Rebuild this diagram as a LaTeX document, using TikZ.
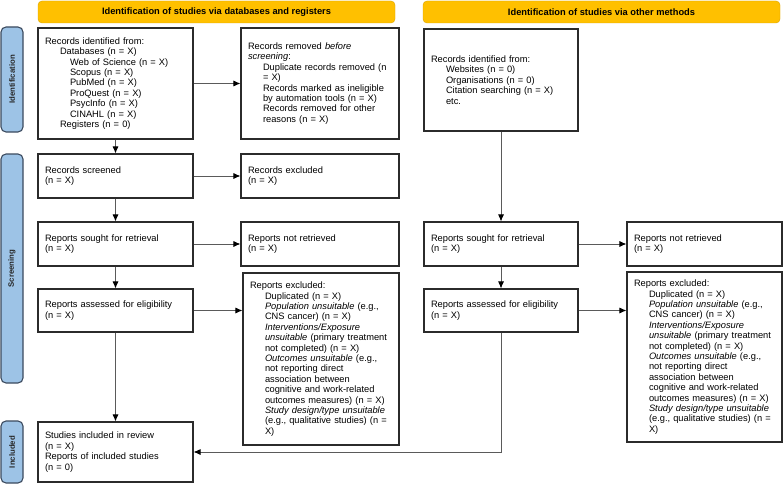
\documentclass[tikz,border=0pt]{standalone}
\usepackage{fontspec}
\setmainfont{Liberation Sans}
\usetikzlibrary{arrows.meta}
\definecolor{hdryellow}{HTML}{FFC000}
\definecolor{hdrborder}{HTML}{D9A300}
\definecolor{sideblue}{HTML}{9DC3E6}
\definecolor{sideborder}{HTML}{3B4A5E}
\definecolor{boxline}{HTML}{2B2B2B}
\definecolor{linkgray}{HTML}{5A5A5A}
\newcommand{\indA}{\hspace*{15pt}}
\newcommand{\indB}{\hspace*{25pt}}
\begin{document}
\begin{tikzpicture}[x=1pt, y=-1pt,
        header/.style={rectangle, draw=hdrborder, fill=hdryellow, rounded corners=4pt, minimum width=357pt, minimum height=22pt, font=\fontsize{9.3}{11}\selectfont\bfseries},
        phase/.style={rectangle, draw=sideborder, line width=1.1pt, fill=sideblue, rounded corners=5pt, rotate=90, minimum height=22pt, text=black!85, font=\fontsize{7.8}{9}\selectfont\bfseries},
        box/.style={rectangle, draw=boxline, line width=1.1pt, fill=white, inner xsep=7pt, inner ysep=2pt, align=left, font=\fontsize{9.3}{10.4}\selectfont},
        arrow/.style={draw=linkgray, line width=0.8pt, ->, >={Latex[length=7pt,width=6pt,color=black]}}
    ]
        \useasboundingbox (0,0) rectangle (783,484);

        \node[header] (dbhead) at (216.5,12) {Identification of studies via databases and registers};
        \node[header] (othhead) at (601.5,12) {Identification of studies via other methods};

        \node[phase, minimum width=105pt] (identph) at (12,79.5) {Identification};
        \node[phase, minimum width=229pt] (screenph) at (12,268.5) {Screening};
        \node[phase, minimum width=62pt] (inclph) at (12,452) {Included};

        % databases and registers
        \node[box, text width=141pt, minimum height=111pt] (identified) at (115.5,83.5) {Records identified from:\\ \indA Databases (n = X)\\ \indB Web of Science (n = X)\\ \indB Scopus (n = X)\\ \indB PubMed (n = X)\\ \indB ProQuest (n = X)\\ \indB PsycInfo (n = X)\\ \indB CINAHL (n = X)\\ \indA Registers (n = 0)};
        \node[box, text width=144pt, minimum height=111pt] (removed) at (320,83.5) {Records removed \textit{before}\\ \textit{screening}:\\ \indA Duplicate records removed (n\\ \indA = X)\\ \indA Records marked as ineligible\\ \indA by automation tools (n = X)\\ \indA Records removed for other\\ \indA reasons (n = X)};
        \node[box, text width=141pt, minimum height=44pt] (screened) at (115.5,176) {Records screened\\(n = X)};
        \node[box, text width=144pt, minimum height=44pt] (excluded) at (320,176) {Records excluded\\(n = X)};
        \node[box, text width=141pt, minimum height=44pt] (soughtL) at (115.5,244) {Reports sought for retrieval\\(n = X)};
        \node[box, text width=144pt, minimum height=44pt] (notretrL) at (320,244) {Reports not retrieved\\(n = X)};
        \node[box, text width=141pt, minimum height=43pt] (assessL) at (115.5,310.5) {Reports assessed for eligibility\\(n = X)};
        \node[box, text width=142pt, minimum height=172pt] (exclL) at (321,359) {Reports excluded:\\ \indA Duplicated (n = X)\\ \indA \textit{Population unsuitable} (e.g.,\\ \indA CNS cancer) (n = X)\\ \indA \textit{Interventions/Exposure}\\ \indA \textit{unsuitable} (primary treatment\\ \indA not completed) (n = X)\\ \indA \textit{Outcomes unsuitable} (e.g.,\\ \indA not reporting direct\\ \indA association between\\ \indA cognitive and work-related\\ \indA outcomes measures) (n = X)\\ \indA \textit{Study design/type unsuitable}\\ \indA (e.g., qualitative studies) (n =\\ \indA X)};
        \node[box, text width=141pt, minimum height=60pt] (included) at (115.5,452) {Studies included in review\\(n = X)\\Reports of included studies\\(n = 0)};

        % other methods
        \node[box, text width=140pt, minimum height=102pt] (other) at (501,80) {Records identified from:\\ \indA Websites (n = 0)\\ \indA Organisations (n = 0)\\ \indA Citation searching (n = X)\\ \indA etc.};
        \node[box, text width=140pt, minimum height=44pt] (soughtR) at (501,244) {Reports sought for retrieval\\(n = X)};
        \node[box, text width=141pt, minimum height=44pt] (notretrR) at (704.5,244) {Reports not retrieved\\(n = X)};
        \node[box, text width=140pt, minimum height=43pt] (assessR) at (501,310.5) {Reports assessed for eligibility\\(n = X)};
        \node[box, text width=141pt, minimum height=170pt] (exclR) at (704.5,357) {Reports excluded:\\ \indA Duplicated (n = X)\\ \indA \textit{Population unsuitable} (e.g.,\\ \indA CNS cancer) (n = X)\\ \indA \textit{Interventions/Exposure}\\ \indA \textit{unsuitable} (primary treatment\\ \indA not completed) (n = X)\\ \indA \textit{Outcomes unsuitable} (e.g.,\\ \indA not reporting direct\\ \indA association between\\ \indA cognitive and work-related\\ \indA outcomes measures) (n = X)\\ \indA \textit{Study design/type unsuitable}\\ \indA (e.g., qualitative studies) (n =\\ \indA X)};

        \draw[arrow] (identified) -- (removed);
        \draw[arrow] (identified) -- (screened);
        \draw[arrow] (screened) -- (excluded);
        \draw[arrow] (screened) -- (soughtL);
        \draw[arrow] (soughtL) -- (notretrL);
        \draw[arrow] (soughtL) -- (assessL);
        \draw[arrow] (assessL.east) -- (assessL.east -| exclL.west);
        \draw[arrow] (assessL) -- (included);

        \draw[arrow] (other) -- (soughtR);
        \draw[arrow] (soughtR) -- (notretrR);
        \draw[arrow] (soughtR) -- (assessR);
        \draw[arrow] (assessR.east) -- (assessR.east -| exclR.west);
        \draw[arrow] (assessR.south) |- (included.east);
    \end{tikzpicture}
\end{document}
